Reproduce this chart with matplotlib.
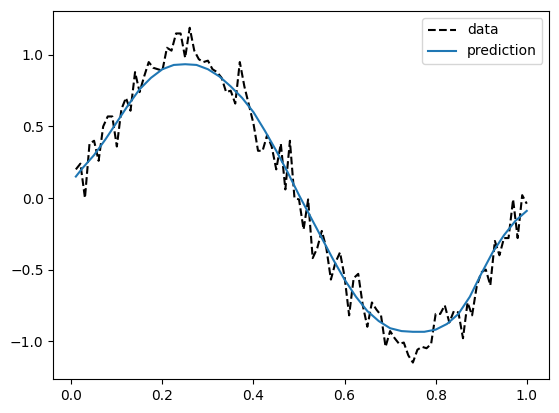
import numpy as np
import matplotlib.pyplot as plt

# x positions of the samples
x = np.arange(1, 101) / 100

# noisy data
data = [0.20, 0.24, 0.00, 0.38, 0.40, 0.26, 0.50, 0.57, 0.57, 0.36,
        0.62, 0.70, 0.61, 0.88, 0.74, 0.85, 0.95, 0.91, 0.90, 0.89,
        1.05, 1.03, 1.15, 1.15, 0.98, 1.19, 1.03, 0.97, 0.95, 0.96,
        0.90, 0.88, 0.84, 0.74, 0.75, 0.66, 0.95, 0.78, 0.65, 0.52,
        0.33, 0.33, 0.44, 0.36, 0.20, 0.38, 0.06, 0.40, 0.00, -0.01,
        -0.22, -0.01, -0.42, -0.35, -0.23, -0.35, -0.57, -0.45, -0.38, -0.55,
        -0.82, -0.56, -0.53, -0.75, -0.90, -0.73, -0.78, -0.82, -1.04, -0.93,
        -0.98, -1.02, -1.01, -1.10, -1.15, -1.06, -1.04, -1.05, -1.02, -0.81,
        -0.81, -0.75, -0.87, -0.79, -0.80, -0.98, -0.73, -0.82, -0.62, -0.52,
        -0.50, -0.61, -0.30, -0.40, -0.28, -0.28, -0.01, -0.28, 0.02, -0.04]

# smooth prediction curve
pred_x = [0.01, 0.025, 0.05, 0.075, 0.10, 0.125, 0.15, 0.175, 0.20, 0.225,
          0.25, 0.275, 0.30, 0.325, 0.35, 0.375, 0.40, 0.425, 0.45, 0.475,
          0.50, 0.525, 0.55, 0.575, 0.60, 0.625, 0.65, 0.675, 0.70, 0.725,
          0.75, 0.775, 0.80, 0.825, 0.85, 0.875, 0.90, 0.925, 0.95, 0.975,
          1.00]
pred_y = [0.15, 0.21, 0.30, 0.41, 0.53, 0.65, 0.76, 0.84, 0.90, 0.93,
          0.935, 0.93, 0.90, 0.85, 0.78, 0.70, 0.60, 0.47, 0.33, 0.18,
          0.02, -0.13, -0.28, -0.43, -0.57, -0.69, -0.79, -0.86, -0.91, -0.93,
          -0.935, -0.935, -0.92, -0.88, -0.81, -0.69, -0.53, -0.38, -0.26, -0.16,
          -0.09]

fig = plt.figure(figsize=(5.59, 4.13), dpi=100)
ax = fig.add_axes([53.3 / 559, 33.7 / 413, 496 / 559, 368.3 / 413])

ax.plot(x, data, 'k--', label='data')
ax.plot(pred_x, pred_y, label='prediction')
ax.legend(loc='upper right')

fig.savefig('out.png', dpi=100)
